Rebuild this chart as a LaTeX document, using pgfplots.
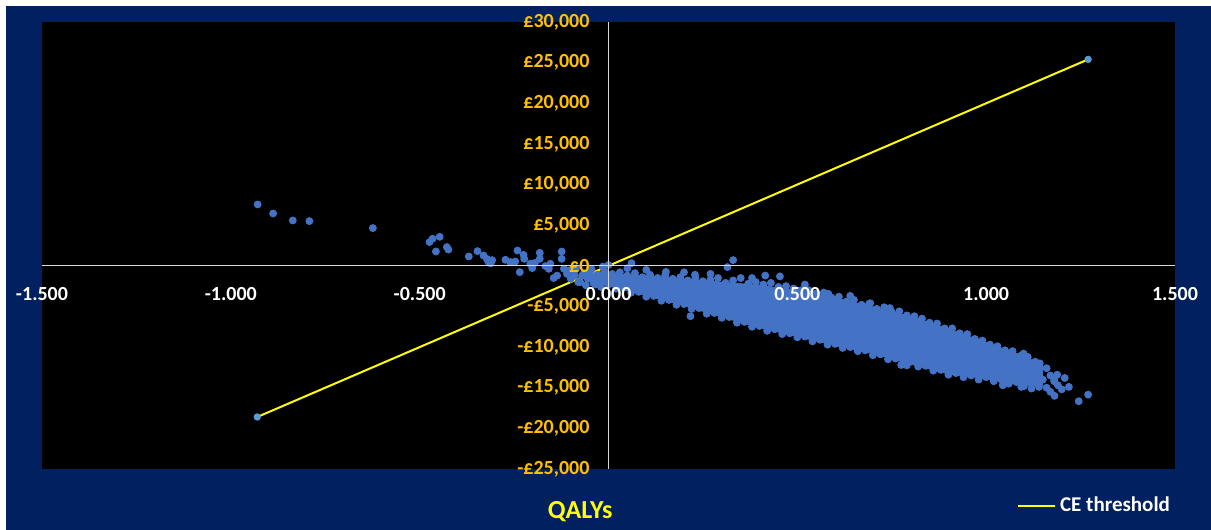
\documentclass[border=0pt]{standalone}
\usepackage{pgfplots}
\pgfplotsset{compat=1.18}
\usepackage{fontspec}
\setmainfont{Carlito}
\definecolor{navybg}{HTML}{002060}
\definecolor{ptblue}{HTML}{4472C4}
\definecolor{gold}{HTML}{FFC000}
\definecolor{ceyellow}{HTML}{FFFF00}
\definecolor{axisgrey}{HTML}{D9D9D9}
\definecolor{endblue}{HTML}{5B9BD5}

\begin{document}
\begin{tikzpicture}
\fill[white] (0,0) rectangle (605.5pt,265pt);
\fill[navybg] (3pt,0) rectangle (605.5pt,262pt);
% plot area
\fill[black] (21pt,30.5pt) rectangle (587.5pt,254pt);
\begin{axis}[
  set layers, axis on top,
  at={(21pt,30.5pt)}, anchor=south west,
  scale only axis, width=566.5pt, height=223.5pt,
  xmin=-1.5, xmax=1.5, ymin=-25000, ymax=30000,
  axis lines=middle,
  axis line style={draw=axisgrey, line width=0.6pt, -},
  major tick length=0pt,
  hide obscured x ticks=false, hide obscured y ticks=false,
  xtick={-1.5,-1,-0.5,0,0.5,1,1.5},
  xticklabels={-1.500,-1.000,-0.500,0.000,0.500,1.000,1.500},
  ytick={-25000,-20000,-15000,-10000,-5000,0,5000,10000,15000,20000,25000,30000},
  yticklabels={{-£25,000},{-£20,000},{-£15,000},{-£10,000},{-£5,000},{£0},{£5,000},{£10,000},{£15,000},{£20,000},{£25,000},{£30,000}},
  scaled y ticks=false,
  xticklabel style={font=\bfseries\fontsize{10}{12}\selectfont, text=white, yshift=-7.5pt},
  yticklabel style={font=\bfseries\fontsize{10}{12}\selectfont, text=gold, xshift=-6pt},
  xlabel={QALYs},
  xlabel style={at={(axis description cs:0.475,-0.0955)}, anchor=center,
    font=\bfseries\fontsize{13}{15}\selectfont, text=ceyellow},
  legend style={at={(axis description cs:0.855,-0.0825)}, anchor=west,
    draw=none, fill=none, text=white, font=\bfseries\fontsize{10.5}{12}\selectfont},
  legend image code/.code={\draw[ceyellow, line width=1pt] (0pt,0pt) -- (13pt,0pt);
    \path (0pt,0pt) -- (18.5pt,0pt);},
]

% dense core of the simulation cloud
\addplot[fill=ptblue, draw=ptblue, forget plot] coordinates {
(-0.05,-1000) (0,-900) (0.1,-1250) (0.2,-1600) (0.3,-2000) (0.4,-2400)
(0.5,-3050) (0.6,-3950) (0.7,-5050) (0.8,-6250) (0.9,-7750) (1.0,-9450)
(1.1,-11150) (1.15,-12200)
(1.15,-14700) (1.1,-14650) (1.0,-13900) (0.9,-13300) (0.8,-12100)
(0.7,-10800) (0.6,-9800) (0.5,-8700) (0.4,-7600) (0.3,-6300) (0.2,-4900)
(0.1,-3650) (0,-2450) (-0.05,-1950)
};

% upper edge of the cloud
\addplot[only marks, mark=*, mark size=1.75pt, ptblue, forget plot] coordinates {
(-0.09,-600) (-0.07,-1200) (-0.05,-800) (-0.03,-1100) (-0.01,-700) (0.01,-1000)
(0.03,-800) (0.05,-1200) (0.07,-900) (0.09,-1400) (0.11,-1100) (0.13,-1500)
(0.15,-1200) (0.17,-1600) (0.19,-1400) (0.21,-1800) (0.23,-1500) (0.25,-1900)
(0.27,-1700) (0.29,-1500) (0.31,-2100) (0.33,-1800) (0.35,-1500) (0.37,-2200)
(0.39,-2000) (0.41,-2300) (0.43,-2100) (0.45,-2600) (0.47,-2500) (0.49,-2800)
(0.51,-3000) (0.53,-3000) (0.55,-3400) (0.57,-3300) (0.59,-3900) (0.61,-3800)
(0.63,-4400) (0.65,-4200) (0.67,-4800) (0.69,-4700) (0.71,-5300) (0.73,-5100)
(0.75,-5700) (0.77,-5600) (0.79,-6100) (0.81,-6200) (0.83,-6500) (0.85,-7000)
(0.87,-7100) (0.89,-7700) (0.91,-7700) (0.93,-8300) (0.95,-8400) (0.97,-9000)
(0.99,-9200) (1.01,-9700) (1.03,-9900) (1.05,-10400) (1.07,-10500) (1.09,-11100)
(1.11,-11200) (1.13,-11800)
};

% lower edge of the cloud
\addplot[only marks, mark=*, mark size=1.75pt, ptblue, forget plot] coordinates {
(-0.08,-2000) (-0.06,-2400) (-0.04,-2100) (-0.02,-2600) (0.00,-2300) (0.02,-2800)
(0.04,-2700) (0.06,-3300) (0.08,-3200) (0.10,-3800) (0.12,-3700) (0.14,-4300)
(0.16,-4200) (0.18,-4800) (0.20,-4700) (0.22,-5300) (0.24,-5200) (0.26,-5900)
(0.28,-5800) (0.30,-6400) (0.32,-6300) (0.34,-7000) (0.36,-6900) (0.38,-7500)
(0.40,-7400) (0.42,-8000) (0.44,-7800) (0.46,-8400) (0.48,-8300) (0.50,-8800)
(0.52,-8700) (0.54,-9300) (0.56,-9100) (0.58,-9700) (0.60,-9600) (0.62,-10100)
(0.64,-10000) (0.66,-10500) (0.68,-10400) (0.70,-11000) (0.72,-10900) (0.74,-11500)
(0.76,-11400) (0.78,-12000) (0.80,-11800) (0.82,-12400) (0.84,-12300) (0.86,-12900)
(0.88,-12800) (0.90,-13400) (0.92,-13200) (0.94,-13700) (0.96,-13500) (0.98,-14000)
(1.00,-13700) (1.02,-14200) (1.04,-14000) (1.06,-14500) (1.08,-14300) (1.10,-14800)
(1.12,-14500) (1.14,-14900)
};

% scattered simulations
\addplot[only marks, mark=*, mark size=1.75pt, ptblue, forget plot] coordinates {
(-0.929,7550) (-0.888,6440) (-0.836,5580) (-0.792,5500) (-0.624,4640)
(-0.474,2920) (-0.466,3330) (-0.447,3570) (-0.457,1760) (-0.428,2300)
(-0.424,2000) (-0.370,1150) (-0.347,1810) (-0.331,1270) (-0.318,500)
(-0.322,850) (-0.312,300) (-0.308,700) (-0.273,740) (-0.260,460)
(-0.241,1880) (-0.247,530) (-0.235,-780) (-0.225,1350) (-0.223,860)
(-0.207,250) (-0.202,-280) (-0.195,350) (-0.182,1600) (-0.182,860)
(-0.167,-40) (-0.158,-370) (-0.154,250) (-0.145,-1500) (-0.136,-1200)
(-0.124,1760) (-0.124,860) (-0.118,-370) (-0.110,-990) (-0.100,-1600)
(-0.105,-600) (-0.090,-1200) (-0.085,-300) (-0.075,-2000) (-0.065,-900)
(-0.055,-1600) (-0.045,-400) (-0.035,-2300) (-0.025,-1100) (-0.015,-100)
(-0.005,-1800)
(0.000,100) (0.061,330) (0.330,700) (0.315,-160) (0.152,-750) (0.229,-1100)
(0.454,-1300) (0.582,-3450) (0.693,-4600) (0.100,-500) (0.050,-300)
(0.200,-800) (0.270,-1000) (0.380,-1500) (0.415,-1200) (0.520,-2300)
(0.640,-3700) (0.745,-5200)
(0.217,-6200) (0.775,-12200) (0.790,-12250)
(1.160,-12600) (1.170,-13500) (1.180,-14200) (1.188,-13400) (1.208,-13800)
(1.219,-14900) (1.181,-16000) (1.200,-15200) (1.170,-15500) (1.142,-12000)
(1.099,-10800) (1.097,-11600) (1.130,-13000) (1.150,-14000) (1.160,-15000)
(1.245,-16660) (1.270,-15850) (1.125,-12800) (1.190,-14700) (1.110,-12700)
(1.137,-14500) (1.120,-15100) (1.093,-14900) (1.044,-14700) (1.180,-13900)
};

% cost-effectiveness threshold
\addplot[ceyellow, line width=1pt, mark=*, mark size=1.3pt,
  mark options={fill=endblue, draw=endblue}] coordinates {
(-0.93,-18600) (1.27,25400)
};
\addlegendentry{CE threshold}
\end{axis}
\end{tikzpicture}
\end{document}
